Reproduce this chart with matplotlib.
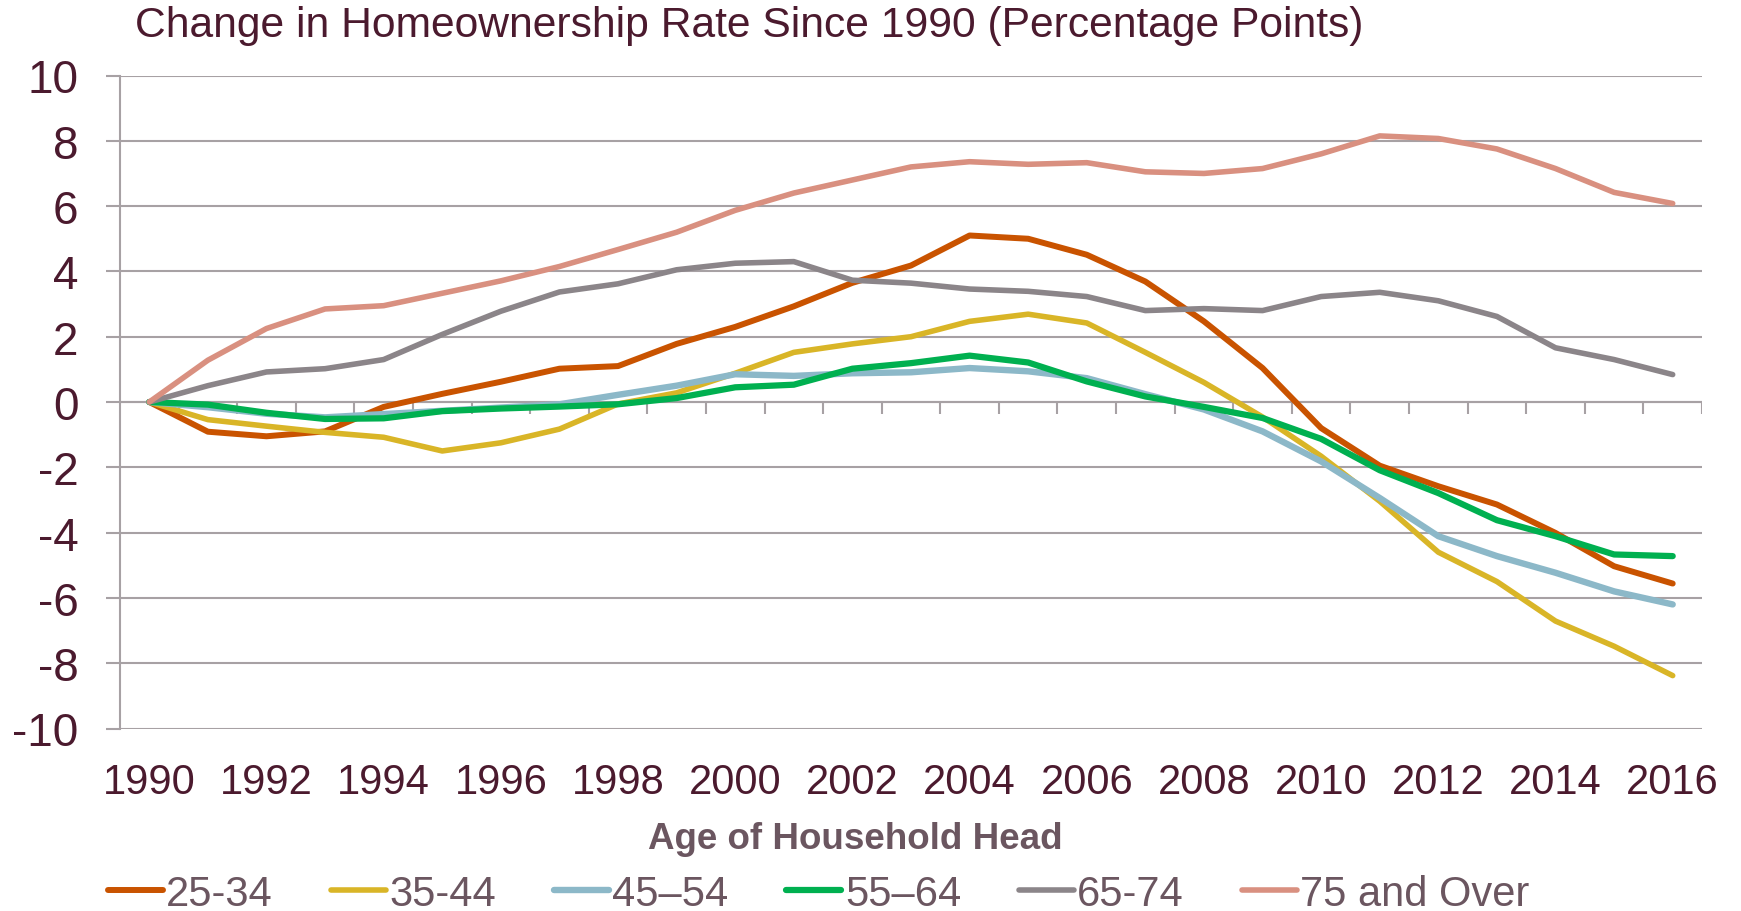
import numpy as np
import matplotlib
matplotlib.use('Agg')
import matplotlib.pyplot as plt

plt.rcParams['font.family'] = ['Liberation Sans', 'DejaVu Sans']
plt.rcParams['axes.unicode_minus'] = False

years = list(range(1990, 2017))

age_25_34 = [0, -0.91, -1.05, -0.9, -0.15, 0.25, 0.62, 1.02, 1.1, 1.78, 2.3, 2.93, 3.65, 4.18,
             5.1, 5.0, 4.51, 3.69, 2.47, 1.04, -0.8, -1.95, -2.58, -3.14, -4.01, -5.03, -5.56]
age_35_44 = [0, -0.54, -0.74, -0.93, -1.08, -1.5, -1.25, -0.83, -0.06, 0.28, 0.88, 1.52, 1.78, 2.0,
             2.47, 2.69, 2.42, 1.52, 0.6, -0.46, -1.66, -3.04, -4.6, -5.5, -6.71, -7.48, -8.38]
age_45_54 = [0, -0.16, -0.36, -0.47, -0.37, -0.27, -0.17, -0.07, 0.22, 0.5, 0.85, 0.8, 0.88, 0.91,
             1.04, 0.94, 0.73, 0.24, -0.23, -0.9, -1.82, -2.94, -4.11, -4.72, -5.23, -5.8, -6.2]
age_55_64 = [0, -0.08, -0.33, -0.52, -0.5, -0.28, -0.2, -0.14, -0.07, 0.12, 0.45, 0.53, 1.02, 1.19,
             1.42, 1.21, 0.63, 0.17, -0.15, -0.49, -1.13, -2.09, -2.79, -3.62, -4.11, -4.67, -4.72]
age_65_74 = [0, 0.5, 0.92, 1.02, 1.3, 2.07, 2.78, 3.37, 3.62, 4.05, 4.25, 4.3, 3.73, 3.64,
             3.46, 3.39, 3.23, 2.8, 2.86, 2.8, 3.23, 3.36, 3.1, 2.62, 1.66, 1.3, 0.84]
age_75_plus = [0, 1.28, 2.25, 2.85, 2.95, 3.33, 3.71, 4.15, 4.67, 5.2, 5.87, 6.4, 6.8, 7.2,
               7.36, 7.28, 7.33, 7.05, 7.0, 7.15, 7.6, 8.15, 8.07, 7.75, 7.15, 6.42, 6.08]

series = [
    ('25-34', age_25_34, '#C95300', 4.3),
    ('35-44', age_35_44, '#D9B527', 4.0),
    ('45\u201354', age_45_54, '#8CB8C8', 4.6),
    ('55\u201364', age_55_64, '#00B050', 4.5),
    ('65-74', age_65_74, '#8B8589', 4.0),
    ('75 and Over', age_75_plus, '#D99080', 4.0),
]

grid_color = '#A7A1A4'
tick_color = '#4B1A2E'
label_color = '#6B5660'

fig = plt.figure(figsize=(17.41, 9.12), dpi=100)
ax = fig.add_axes([120 / 1741, 1 - 729.5 / 912, 1582 / 1741, (729.5 - 76.5) / 912])

for name, vals, col, lw in series:
    ax.plot(years, vals, color=col, lw=lw, label=name, solid_capstyle='round',
            solid_joinstyle='round', zorder=3)

ax.set_xlim(1989.5, 2016.5)
ax.set_ylim(-10, 10)
ax.set_yticks(np.arange(-10, 11, 2))
ax.yaxis.grid(True, color=grid_color, lw=1.5)
ax.set_axisbelow(True)

for s in ['top', 'right', 'bottom']:
    ax.spines[s].set_visible(False)
ax.spines['left'].set_color(grid_color)
ax.spines['left'].set_linewidth(1.5)

ax.set_xticks(range(1990, 2017, 2))
ax.tick_params(axis='x', length=0, pad=24, labelsize=30, labelcolor=tick_color)
ax.tick_params(axis='y', length=10, width=1.5, color=grid_color, pad=20,
               labelsize=33, labelcolor=tick_color)

# category axis at zero: line plus tick marks on year boundaries
boundaries = np.arange(1990.5, 2017, 1)
ax.axhline(0, color=grid_color, lw=1.5, zorder=1)
ax.vlines(boundaries, -0.37, 0, color=grid_color, lw=1.5, zorder=1)

ax.set_xlabel('Age of Household Head', fontsize=26.5, fontweight='bold', color=label_color)
ax.xaxis.set_label_coords((855 - 120) / 1582, (729.5 - 840) / 653)
ax.xaxis.label.set_va('center')

fig.text(135 / 1741, 1 - 26 / 912, 'Change in Homeownership Rate Since 1990 (Percentage Points)',
         fontsize=30.7, color=tick_color, va='center', ha='left')

fig.legend(loc='center left', bbox_to_anchor=(108 / 1741, 1 - 895 / 912), ncol=6,
           frameon=False, fontsize=30, handlelength=1.32, handletextpad=0.08,
           columnspacing=1.39, borderpad=0, borderaxespad=0, labelcolor=label_color)

fig.savefig('out.png', dpi=100)
